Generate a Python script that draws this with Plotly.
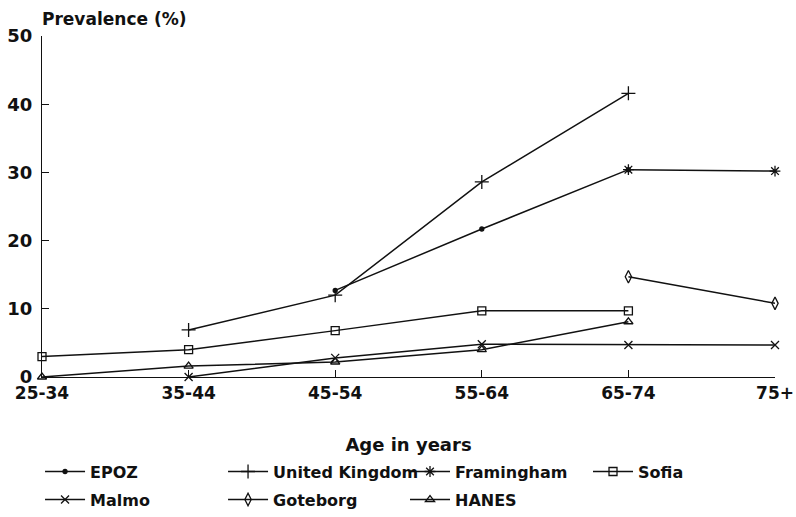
import plotly.graph_objects as go

age_groups = ["25-34", "35-44", "45-54", "55-64", "65-74", "75+"]
y_ticks = [0, 10, 20, 30, 40, 50]

epoz = [None, None, 12.7, 21.7, 30.4, None]
united_kingdom = [None, 6.9, 12.0, 28.6, 41.6, None]
framingham = [None, None, None, None, 30.4, 30.2]
sofia = [3.0, 4.0, 6.8, 9.7, 9.7, None]
malmo = [None, 0.0, 2.8, 4.8, 4.7, 4.7]
goteborg = [None, None, None, None, 14.7, 10.8]
hanes = [0.0, 1.6, 2.2, 4.0, 8.1, None]

series = [
    ("EPOZ", epoz, "circle", 4),
    ("United Kingdom", united_kingdom, "cross-thin-open", 10),
    ("Framingham", framingham, "asterisk-open", 9),
    ("Sofia", sofia, "square-open", 8),
    ("Malmo", malmo, "x-thin-open", 8),
    ("Goteborg", goteborg, "diamond-tall-open", 9),
    ("HANES", hanes, "triangle-up-open", 8),
]

# legend grid: column left edges and row tops, as fractions of the figure (container)
legend_cols = [0.0503, 0.2802, 0.5088, 0.7387]
legend_rows = [0.1207, 0.0665]

FONT = "DejaVu Sans"
INK = "#111111"

fig = go.Figure()
legend_layout = {}
for i, (name, vals, sym, size) in enumerate(series):
    key = "legend" if i == 0 else f"legend{i + 1}"
    fig.add_trace(go.Scatter(
        x=list(range(len(age_groups))), y=vals, name=name, legend=key,
        mode="lines+markers", connectgaps=False, cliponaxis=False,
        line=dict(color=INK, width=1.5),
        marker=dict(symbol=sym, size=size, color=INK,
                    line=dict(color=INK, width=1.3)),
    ))
    legend_layout[key] = dict(
        x=legend_cols[i % 4], y=legend_rows[i // 4],
        xref="container", yref="container", xanchor="left", yanchor="top",
        orientation="h", font=dict(size=16, family=FONT, weight="bold"),
        itemwidth=40, bgcolor="rgba(0,0,0,0)",
    )

fig.update_layout(
    width=796, height=517,
    margin=dict(l=42, r=21, t=36, b=140),
    paper_bgcolor="white", plot_bgcolor="white",
    font=dict(family=FONT, color=INK, size=17, weight="bold"),
    showlegend=True,
    annotations=[dict(text="Prevalence (%)", xref="paper", yref="paper",
                      x=-0.003, y=1, xanchor="left", yanchor="bottom", yshift=5,
                      showarrow=False, font=dict(size=17, family=FONT, weight="bold"))],
    **legend_layout,
)
fig.update_xaxes(
    range=[0, 5], tickmode="array", tickvals=list(range(len(age_groups))),
    ticktext=age_groups, ticks="inside", ticklen=7, tickcolor=INK,
    showline=True, linecolor=INK, linewidth=1.3, showgrid=False, zeroline=False,
    automargin=False,
    title=dict(text="Age in years", standoff=56, font=dict(size=18, family=FONT, weight="bold")),
    tickfont=dict(size=17),
)
fig.update_yaxes(
    range=[0, 50], tickvals=y_ticks, ticks="inside", ticklen=7, tickcolor=INK,
    showline=True, linecolor=INK, linewidth=1.3, showgrid=False, zeroline=False,
    automargin=False, ticklabelstandoff=5,
    tickfont=dict(size=18),
)

fig.write_html("out.html", config={"displayModeBar": False},
               post_script="document.body.style.margin='0';")
